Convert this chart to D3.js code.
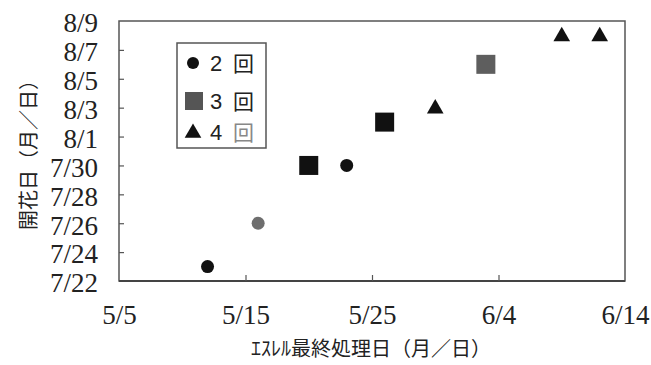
<!DOCTYPE html>
<html><head><meta charset="utf-8">
<script src="https://cdn.jsdelivr.net/npm/d3@7"></script>
<style>body{margin:0;background:#fff}svg{display:block}</style>
</head><body>
<svg id="c" width="651" height="365"></svg>
<script>
// data (month/day)
const circleDates = ["5/12","5/16","5/23"];
const circleBloom = ["7/23","7/26","7/30"];
const circleFill  = ["#111","#6e6e6e","#111"];
const squareDates = ["5/20","5/26","6/3"];
const squareBloom = ["7/30","8/2","8/6"];
const squareFill  = ["#111","#111","#5e5e5e"];
const triDates = ["5/30","6/9","6/12"];
const triBloom = ["8/3","8/8","8/8"];
const triFill  = ["#111","#111","#111"];
const xTicks = ["5/5","5/15","5/25","6/4","6/14"];
const yTicks = ["7/22","7/24","7/26","7/28","7/30","8/1","8/3","8/5","8/7","8/9"];
const legendLabels = ["2","3","4"];
const xTitle = "ｴｽﾚﾙ最終処理日（月／日）";
const yTitle = "開花日（月／日）";

const pd = s => { const [m,d] = s.split("/").map(Number); return new Date(Date.UTC(2000,m-1,d)); };
const fmt = d => (d.getUTCMonth()+1)+"/"+d.getUTCDate();

const svg = d3.select("#c");
const L=119,R=625,T=21,B=281;
const x = d3.scaleUtc().domain([pd("5/5"),pd("6/14")]).range([L,R]);
const y = d3.scaleUtc().domain([pd("7/22"),pd("8/9")]).range([B,T]);
const numFont = "'Liberation Serif','DejaVu Serif',serif";
const jpFont = "'Noto Sans CJK JP',sans-serif";

// frame
svg.append("rect").attr("x",L).attr("y",T).attr("width",R-L).attr("height",B-T)
  .attr("fill","none").attr("stroke","#555").attr("stroke-width",1.5);
svg.append("line").attr("x1",L).attr("x2",R).attr("y1",B).attr("y2",B).attr("stroke","#444").attr("stroke-width",2.2);

// y axis (inward ticks)
const yAxis = d3.axisLeft(y).tickValues(yTicks.map(pd)).tickFormat(fmt).tickSize(-5).tickPadding(21);
const gy = svg.append("g").attr("transform",`translate(${L},0)`).call(yAxis);
gy.select(".domain").remove();
gy.selectAll(".tick line").attr("stroke","#555").attr("stroke-width",1.2)
  .filter(d=>+d===+pd("7/22")||+d===+pd("8/9")).remove();
gy.selectAll("text").attr("font-family",numFont).attr("font-size",27).attr("fill","#222")
  .attr("dy","0.4em");

// x axis (inward ticks)
const xAxis = d3.axisBottom(x).tickValues(xTicks.map(pd)).tickFormat(fmt).tickSize(-6).tickPadding(24);
const gx = svg.append("g").attr("transform",`translate(0,${B})`).call(xAxis);
gx.select(".domain").remove();
gx.selectAll(".tick line").attr("stroke","#555").attr("stroke-width",1.2)
  .filter(d=>+d===+pd("5/5")||+d===+pd("6/14")).remove();
gx.selectAll("text").attr("font-family",numFont).attr("font-size",27).attr("fill","#222");

// titles
svg.append("text").attr("x",371).attr("y",356).attr("text-anchor","middle")
  .attr("font-family",jpFont).attr("font-size",20).attr("fill","#222").text(xTitle);
svg.append("text").attr("transform","translate(36,150) rotate(-90)").attr("text-anchor","middle")
  .attr("font-family",jpFont).attr("font-size",20).attr("fill","#222").text(yTitle);

// marks
const tri = d3.symbol().type(d3.symbolTriangle).size(120);
svg.append("g").selectAll("circle").data(circleDates).join("circle")
  .attr("cx",d=>x(pd(d))).attr("cy",(d,i)=>y(pd(circleBloom[i]))).attr("r",6.5)
  .attr("fill",(d,i)=>circleFill[i]);
svg.append("g").selectAll("rect").data(squareDates).join("rect")
  .attr("x",d=>x(pd(d))-9.5).attr("y",(d,i)=>y(pd(squareBloom[i]))-9.5).attr("width",19).attr("height",19)
  .attr("fill",(d,i)=>squareFill[i]);
svg.append("g").selectAll("path").data(triDates).join("path")
  .attr("transform",(d,i)=>`translate(${x(pd(d))},${y(pd(triBloom[i]))+1})`).attr("d",tri)
  .attr("fill",(d,i)=>triFill[i]);

// legend
const lg = svg.append("g");
lg.append("rect").attr("x",177).attr("y",43).attr("width",89).attr("height",105)
  .attr("fill","#fff").attr("stroke","#555").attr("stroke-width",1.5);
const ly = [63,101,132];
lg.append("circle").attr("cx",193).attr("cy",ly[0]).attr("r",6).attr("fill","#111");
lg.append("rect").attr("x",185).attr("y",ly[1]-9).attr("width",18).attr("height",18).attr("fill","#555");
lg.append("path").attr("transform",`translate(193,${ly[2]+1})`).attr("d",tri).attr("fill","#111");
legendLabels.forEach((t,i)=>{
  lg.append("text").attr("x",210).attr("y",ly[i]).attr("dy","0.36em").attr("font-family","'Liberation Sans',sans-serif")
    .attr("font-size",22).attr("fill","#222").text(t);
  lg.append("text").attr("x",233).attr("y",ly[i]).attr("dy","0.36em").attr("font-family",jpFont)
    .attr("font-size",21).attr("fill",i===2?"#888":"#222").text("回");
});
</script>
</body></html>
